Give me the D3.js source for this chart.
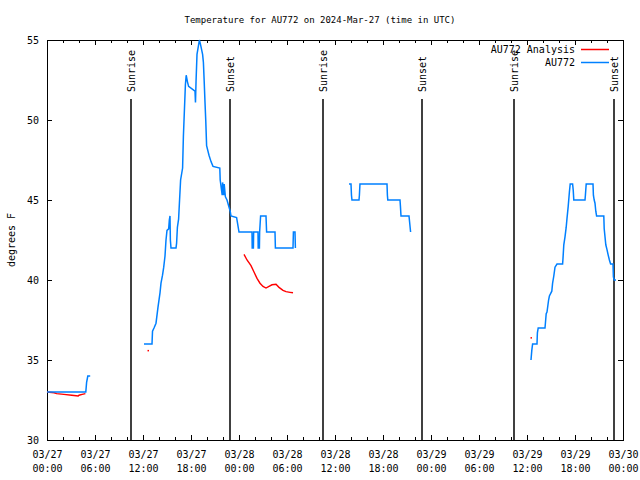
<!DOCTYPE html>
<html>
<head>
<meta charset="utf-8">
<script src="https://cdn.jsdelivr.net/npm/d3@7"></script>
<style>
  html, body { margin: 0; padding: 0; background: #fff; }
  svg { display: block; }
  text { font-family: "DejaVu Sans Mono", "Liberation Mono", monospace; font-size: 10px; fill: #000; }
</style>
</head>
<body>
<svg id="chart" width="640" height="480"></svg>
<script>
// ---- Data (hours after 2024-03-27 00:00 UTC, temperature °F) ----
const titleText = "Temperature for AU772 on 2024-Mar-27 (time in UTC)";
const yLabel = "degrees F";
const seriesNames = ["AU772 Analysis", "AU772"];
const yTicks = [30, 35, 40, 45, 50, 55];
const sunriseHours = [10.55, 34.45, 58.42];
const sunsetHours = [22.88, 46.9, 70.92];

const obsSeg1 = [[0,33],[4.85,33],[4.95,33.6],[5.1,34],[5.4,34]];
const obsSeg2 = [
  [12.125,36],[13.125,36],[13.19,36.8],[13.375,37],[13.625,37.3],[13.875,38.3],
  [14.125,39.2],[14.25,39.8],[14.44,40.3],[14.59,40.8],[14.75,41.5],[14.875,42.5],
  [15.0,43.1],[15.21,43.2],[15.29,43.75],[15.375,44],[15.42,42.5],[15.5,42],
  [16.125,42],[16.2,42.3],[16.3,43.3],[16.45,43.8],[16.55,44.8],[16.7,46.25],
  [16.95,47],[17.05,49],[17.3,52.2],[17.4,52.8],[17.55,52.4],[17.7,52.1],
  [18.5,51.8],[18.56,51.1],[18.63,52.4],[18.75,54.1],[19.05,55],[19.2,54.7],
  [19.45,54.1],[19.55,53.6],[19.65,52.4],[19.75,51.1],[19.85,49.9],[19.95,48.4],
  [20.25,47.8],[20.5,47.4],[20.75,47.1],[21.6,47],[21.65,46.25],[21.9,45.3],
  [21.95,46.1],[22.1,45.3],[22.15,46],[22.3,45.2],[22.5,45],[22.9,44.3],
  [23.0,44],[23.7,43.9],[23.8,43.6],[24.0,43],[25.625,43],[25.65,42],
  [25.8,42],[25.83,43],[26.375,43],[26.4,42],[26.55,42],[26.58,43],[26.7,44],
  [27.375,44],[27.45,43],[28.5,43],[28.55,42],[30.75,42],[30.8,43],[31.0,43],[31.05,42]
];
const obsSeg3 = [
  [37.75,46],[38.0,46],[38.06,45.3],[38.12,45],[39.0,45],[39.05,45.3],[39.12,46],
  [42.5,46],[42.55,45.3],[42.6,45],[44.125,45],[44.18,44.6],[44.25,44],[45.25,44],
  [45.3,43.75],[45.45,43]
];
const obsSeg4 = [
  [60.5,35],[60.6,35.6],[60.7,36],[61.25,36],[61.3,36.7],[61.4,37],[62.25,37],
  [62.3,37.3],[62.4,37.9],[62.5,38],[62.7,38.75],[62.8,39],[63.1,39.3],
  [63.2,39.8],[63.35,40.25],[63.5,40.8],[63.75,41],[64.45,41],[64.5,41.35],
  [64.6,42.2],[64.75,42.7],[64.9,43.3],[65.0,43.85],[65.15,44.6],[65.3,45.5],
  [65.4,46],[65.7,46],[65.78,45.6],[65.85,45],[67.25,45],[67.3,45.3],[67.4,46],
  [68.25,46],[68.3,45.3],[68.4,45],[68.5,44.8],[68.6,44.3],[68.7,44],
  [69.6,44],[69.65,43.2],[69.75,42.7],[69.85,42.2],[70.0,41.9],[70.15,41.56],
  [70.3,41.25],[70.45,41],[70.75,41],[70.8,40.2],[70.9,40],[71.125,40]
];
const anaSeg1 = [[0,33],[0.9,32.95],[1.2,32.9],[2.1,32.85],[3.1,32.8],[3.9,32.75],[4.0,32.8],[4.4,32.85],[4.8,32.9]];
const anaSeg2 = [
  [24.625,41.6],[25.0,41.25],[25.5,40.9],[25.875,40.5],[26.25,40.1],[26.625,39.8],
  [27.0,39.6],[27.375,39.5],[27.75,39.6],[28.125,39.7],[28.625,39.73],[29.0,39.54],
  [29.5,39.35],[29.875,39.27],[30.375,39.23],[30.75,39.2]
];
const anaPoints = [[12.625,35.6],[60.5,36.4]];

// ---- Setup ----
const W = 640, H = 480;
const M = { left: 47, right: 17, top: 40, bottom: 40 };
const start = Date.UTC(2024, 2, 27, 0, 0);
const t = h => new Date(start + h * 3600e3);
const colObs = "#0080ff", colAna = "#ff0000";

const svg = d3.select("#chart");
const x = d3.scaleUtc().domain([t(0), t(72)]).range([M.left, W - M.right]);
const y = d3.scaleLinear().domain([30, 55]).range([H - M.bottom, M.top]);

// Title
svg.append("text").attr("x", 320).attr("y", 23).attr("text-anchor", "middle")
  .style("font-size", "9px").text(titleText);
// Y label
svg.append("text").attr("transform", `translate(15,${(M.top + H - M.bottom) / 2}) rotate(-90)`)
  .attr("text-anchor", "middle").text(yLabel);

const majorTicks = d3.utcHour.every(6).range(t(0), t(72.01));
const minorTicks = d3.utcHour.every(2).range(t(0), t(72.01)).filter(d => d.getUTCHours() % 6 !== 0);
const f1 = d3.utcFormat("%m/%d"), f2 = d3.utcFormat("%H:%M");

function styleAxis(g) {
  g.select(".domain").remove();
  g.selectAll(".tick line").attr("stroke", "#000").attr("shape-rendering", "crispEdges");
  g.selectAll("text").style("font-family", '"DejaVu Sans Mono", monospace').style("font-size", "10px");
}

// Bottom axis with two-line labels
const gx = svg.append("g").attr("transform", `translate(0,${H - M.bottom})`)
  .call(d3.axisBottom(x).tickValues(majorTicks).tickSize(-5).tickPadding(11).tickFormat(f1));
gx.call(styleAxis);
gx.selectAll(".tick text").each(function(d) {
  const s = d3.select(this); s.text(null);
  s.append("tspan").attr("x", 0).text(f1(d));
  s.append("tspan").attr("x", 0).attr("dy", "14").text(f2(d));
});
svg.append("g").attr("transform", `translate(0,${H - M.bottom})`)
  .call(d3.axisBottom(x).tickValues(minorTicks).tickSize(-3).tickFormat("")).call(styleAxis);
// Top mirror
svg.append("g").attr("transform", `translate(0,${M.top})`)
  .call(d3.axisTop(x).tickValues(majorTicks).tickSize(-5).tickFormat("")).call(styleAxis);
svg.append("g").attr("transform", `translate(0,${M.top})`)
  .call(d3.axisTop(x).tickValues(minorTicks).tickSize(-3).tickFormat("")).call(styleAxis);
// Left & right
svg.append("g").attr("transform", `translate(${M.left},0)`)
  .call(d3.axisLeft(y).tickValues(yTicks).tickSize(-5).tickPadding(8).tickFormat(d3.format("d"))).call(styleAxis);
svg.append("g").attr("transform", `translate(${W - M.right},0)`)
  .call(d3.axisRight(y).tickValues(yTicks).tickSize(-5).tickFormat("")).call(styleAxis);

// Border
svg.append("rect").attr("x", M.left + 0.5).attr("y", M.top + 0.5)
  .attr("width", W - M.left - M.right).attr("height", H - M.top - M.bottom)
  .attr("fill", "none").attr("stroke", "#000").attr("shape-rendering", "crispEdges");

// Sunrise / sunset markers
const events = sunriseHours.map(h => ({ h, label: "Sunrise" }))
  .concat(sunsetHours.map(h => ({ h, label: "Sunset" })));
const ev = svg.append("g");
events.forEach(e => {
  const xx = Math.round(x(t(e.h)));
  ev.append("line").attr("x1", xx).attr("x2", xx).attr("y1", 99).attr("y2", y(30))
    .attr("stroke", "#000").attr("stroke-width", 1.5);
  ev.append("text").attr("transform", `translate(${xx + 4},92) rotate(-90)`)
    .attr("text-anchor", "start").text(e.label);
});

// Lines
const line = d3.line().x(d => x(t(d[0]))).y(d => y(d[1]));
const plot = svg.append("g");
[anaSeg1, anaSeg2].forEach(s => plot.append("path").attr("d", line(s))
  .attr("fill", "none").attr("stroke", colAna).attr("stroke-width", 1.4));
anaPoints.forEach(p => plot.append("rect").attr("x", x(t(p[0])) - 0.5).attr("y", y(p[1]) - 0.5)
  .attr("width", 1.5).attr("height", 1.5).attr("fill", colAna));
[obsSeg1, obsSeg2, obsSeg3, obsSeg4].forEach(s => plot.append("path").attr("d", line(s))
  .attr("fill", "none").attr("stroke", colObs).attr("stroke-width", 1.5));

// Legend
const leg = svg.append("g");
[[seriesNames[0], colAna, 49.5], [seriesNames[1], colObs, 62.5]].forEach(([name, c, yy]) => {
  leg.append("text").attr("x", 575).attr("y", yy + 3.5).attr("text-anchor", "end").text(name);
  leg.append("line").attr("x1", 581).attr("x2", 609).attr("y1", yy).attr("y2", yy)
    .attr("stroke", c).attr("stroke-width", 1.5);
});
</script>
</body>
</html>
